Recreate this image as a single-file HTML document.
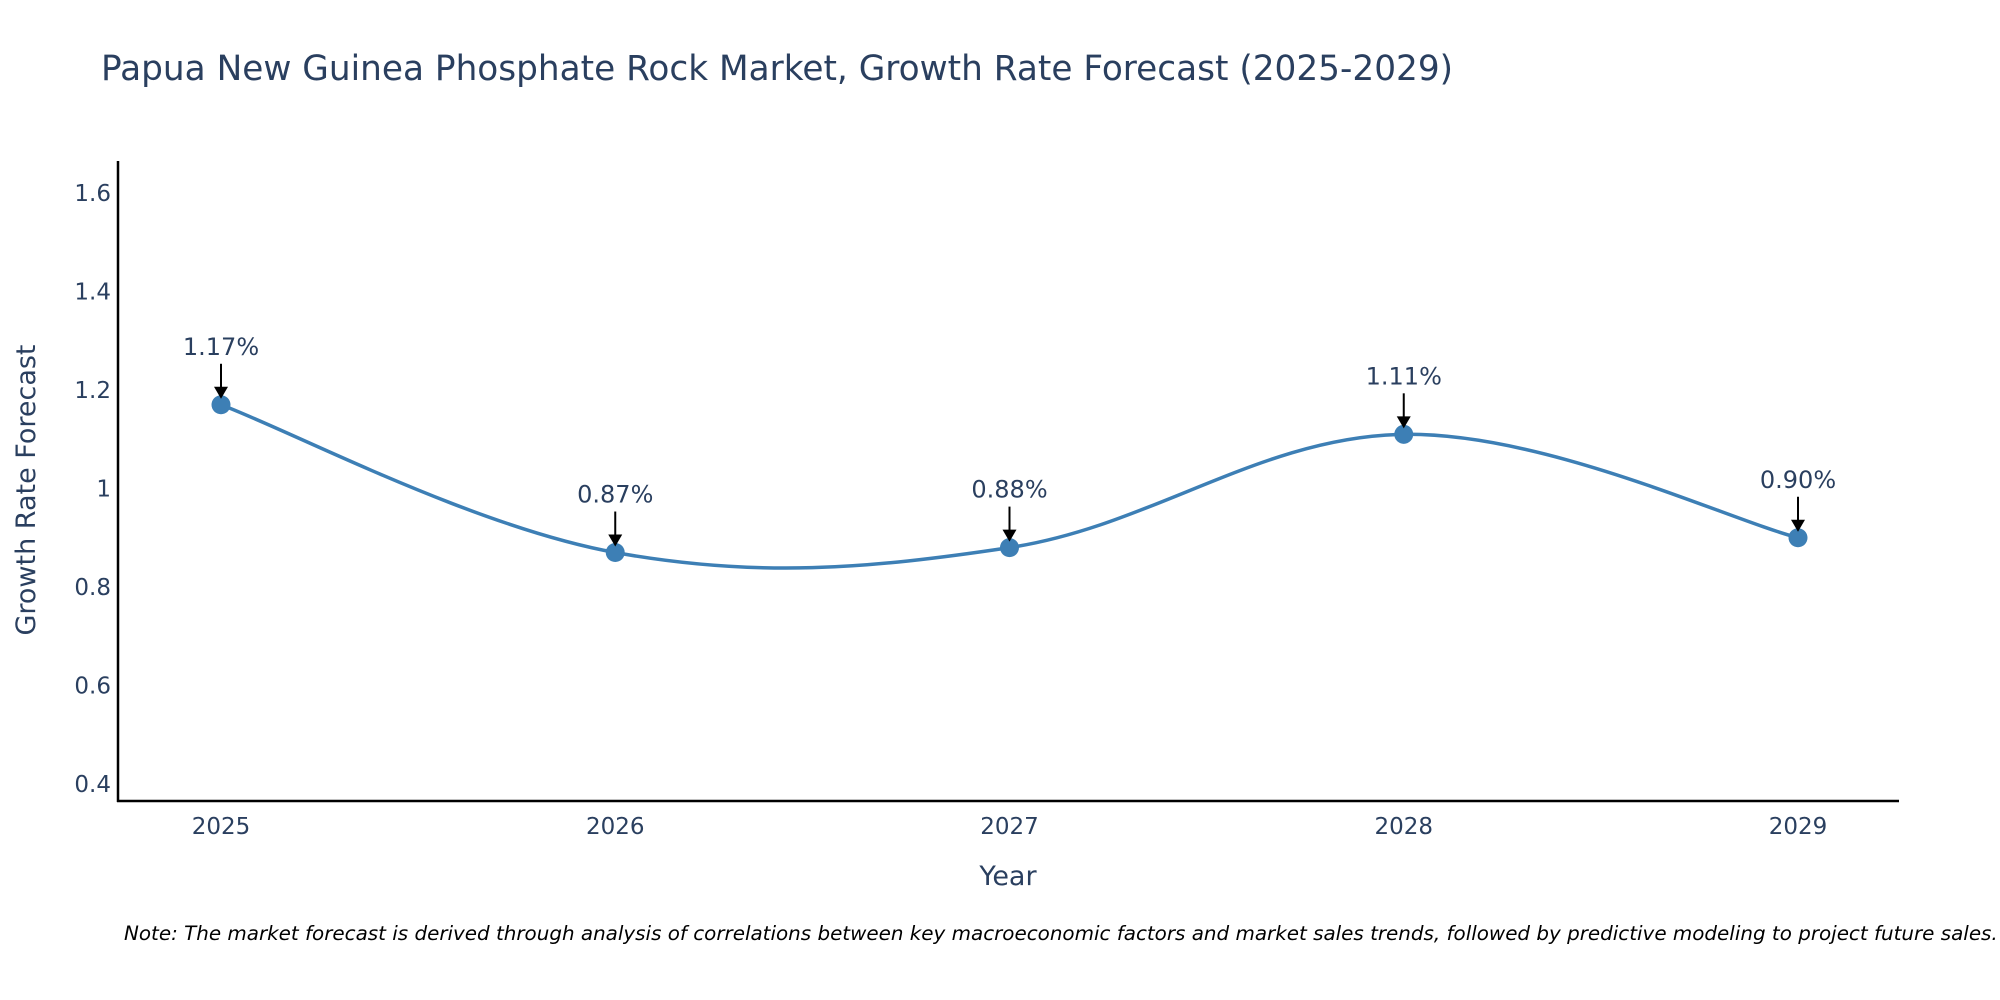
<!DOCTYPE html>
<html><head><meta charset="utf-8"><style>
html,body{margin:0;padding:0;background:#fff;overflow:hidden}
svg{display:block;font-family:"DejaVu Sans","Liberation Sans",sans-serif}
</style></head><body>
<svg id="chart" width="2000" height="1000" viewBox="0 0 2000 1000">
<text x="101" y="80" font-size="34.3" fill="#2a3f5f">Papua New Guinea Phosphate Rock Market, Growth Rate Forecast (2025-2029)</text>
<g id="yticks"></g><g id="xticks"></g>
<line x1="118" y1="161" x2="118" y2="802" stroke="#000" stroke-width="2.5"/>
<line x1="117" y1="801" x2="1899" y2="801" stroke="#000" stroke-width="2.5"/>
<path id="line" fill="none" stroke="#3d7fb5" stroke-width="3.5"/>
<g id="marks"></g>
<text x="1008" y="885" font-size="27" fill="#2a3f5f" text-anchor="middle">Year</text>
<text transform="translate(35,490) rotate(-90)" font-size="27" fill="#2a3f5f" text-anchor="middle">Growth Rate Forecast</text>
<text x="124" y="940" font-size="19.9" font-style="italic" fill="#000">Note: The market forecast is derived through analysis of correlations between key macroeconomic factors and market sales trends, followed by predictive modeling to project future sales.</text>
</svg>
<script>
const years=[2025,2026,2027,2028,2029];
const values=[1.17,0.87,0.88,1.11,0.90];
const labels=["1.17%","0.87%","0.88%","1.11%","0.90%"];
const yTicks=[0.4,0.6,0.8,1,1.2,1.4,1.6];
const yTickLabels=["0.4","0.6","0.8","1","1.2","1.4","1.6"];
const NS="http://www.w3.org/2000/svg";
function xs(i){return 221+i*(1798-221)/(years.length-1);}
function ys(v){return 784-(v-0.4)*(784-193)/1.2;}
function mk(t,a,p){const e=document.createElementNS(NS,t);for(const k in a)e.setAttribute(k,a[k]);p.appendChild(e);return e;}
const yg=document.getElementById('yticks');
yTicks.forEach((v,i)=>{const t=mk('text',{x:111,y:ys(v)+8,'font-size':23,fill:'#2a3f5f','text-anchor':'end'},yg);t.textContent=yTickLabels[i];

});
const xg=document.getElementById('xticks');
years.forEach((y,i)=>{const t=mk('text',{x:xs(i),y:834,'font-size':23,fill:'#2a3f5f','text-anchor':'middle'},xg);t.textContent=y;

});
const P=values.map((v,i)=>[xs(i),ys(v)]);
let d=`M${P[0][0]},${P[0][1]}`;
for(let i=0;i<P.length-1;i++){const p0=P[Math.max(0,i-1)],p1=P[i],p2=P[i+1],p3=P[Math.min(P.length-1,i+2)];
const k=0.18;
d+=` C${p1[0]+(p2[0]-p0[0])*k},${p1[1]+(p2[1]-p0[1])*k} ${p2[0]-(p3[0]-p1[0])*k},${p2[1]-(p3[1]-p1[1])*k} ${p2[0]},${p2[1]}`;}
document.getElementById('line').setAttribute('d',d);
const mg=document.getElementById('marks');
P.forEach((p,i)=>{
const c=mk('circle',{cx:p[0],cy:p[1],r:9.5,fill:'#3d7fb5'},mg);


const l=mk('line',{x1:p[0],y1:p[1]-41,x2:p[0],y2:p[1]-14,stroke:'#000','stroke-width':2},mg);


const h=mk('polygon',{points:`${p[0]-7},${p[1]-18} ${p[0]+7},${p[1]-18} ${p[0]},${p[1]-6}`,fill:'#000'},mg);


const t=mk('text',{x:p[0],y:p[1]-50,'font-size':24,fill:'#2a3f5f','text-anchor':'middle'},mg);t.textContent=labels[i];


});
</script>
</body></html>
